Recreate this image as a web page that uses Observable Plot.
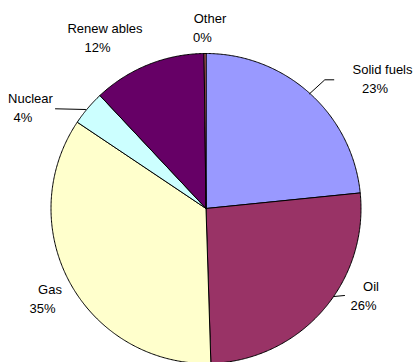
<!DOCTYPE html>
<html><head><meta charset="utf-8">
<script src="https://cdn.jsdelivr.net/npm/d3@7"></script>
<script src="https://cdn.jsdelivr.net/npm/@observablehq/plot@0.6"></script>
<style>html,body{margin:0;padding:0;background:#fff;} svg{display:block}</style>
</head><body><div id="chart"></div>
<script>
// ---- data ----
const categories = ["Solid fuels", "Oil", "Gas", "Nuclear", "Renew ables", "Other"];
const shares = [23.4, 26.1, 34.9, 3.6, 11.8, 0.2];
const colors = ["#9999FF", "#993366", "#FFFFCC", "#CCFFFF", "#660066", "#FF8080"];

// ---- layout (pixels, relative to pie centre) ----
const W = 417, H = 362, CX = 205.5, CY = 208, R = 155;
const labelAt = [[176.5, -135], [165, 82], [-156, 85], [-175.5, -106], [-101, -176], [4, -186]];
const leaders = [
  [[103.5, -114.7], [118.8, -128.7], [127.8, -128.7]],
  [[128, 88], [138.5, 87]],
  null,
  [[-120.5, -99], [-150.5, -99.7]],
  null,
  null
];

const arcs = d3.pie().sort(null).value(d => d)(shares);
const slicePts = [];
arcs.forEach((a, i) => {
  const n = Math.max(2, Math.ceil((a.endAngle - a.startAngle) / (Math.PI / 360)));
  slicePts.push({k: i, x: 0, y: 0});
  for (let j = 0; j <= n; j++) {
    const t = a.startAngle + (a.endAngle - a.startAngle) * j / n;
    slicePts.push({k: i, x: Math.sin(t), y: Math.cos(t)});
  }
  slicePts.push({k: i, x: 0, y: 0});
});

const labels = categories.map((c, i) => ({
  name: c,
  pct: Math.round(shares[i]) + "%",
  x: labelAt[i][0] / R,
  y: -labelAt[i][1] / R
}));

const leaderPts = [];
leaders.forEach((l, i) => { if (l) l.forEach(p => leaderPts.push({k: i, x: p[0] / R, y: -p[1] / R})); });

const font = "Liberation Sans, Arial, Helvetica, sans-serif";

const chart = Plot.plot({
  width: W, height: H, margin: 0,
  x: {domain: [-CX / R, (W - CX) / R], axis: null},
  y: {domain: [(CY - H) / R, CY / R], axis: null},
  color: {type: "identity"},
  marks: [
    Plot.line(slicePts, {x: "x", y: "y", z: "k", fill: d => colors[d.k], stroke: "#000", strokeWidth: 1, curve: "linear"}),
    Plot.line(leaderPts, {x: "x", y: "y", z: "k", stroke: "#000", strokeWidth: 1}),
    Plot.text(labels, {x: "x", y: "y", text: "name", fontSize: 13, fontFamily: font, fill: "#000", lineAnchor: "bottom", textAnchor: "middle"}),
    Plot.text(labels, {x: "x", y: "y", text: "pct", fontSize: 13, fontFamily: font, fill: "#000", lineAnchor: "bottom", textAnchor: "middle", dx: -7.5, dy: 19.5})
  ]
});
document.getElementById("chart").appendChild(chart);
</script>
</body></html>
